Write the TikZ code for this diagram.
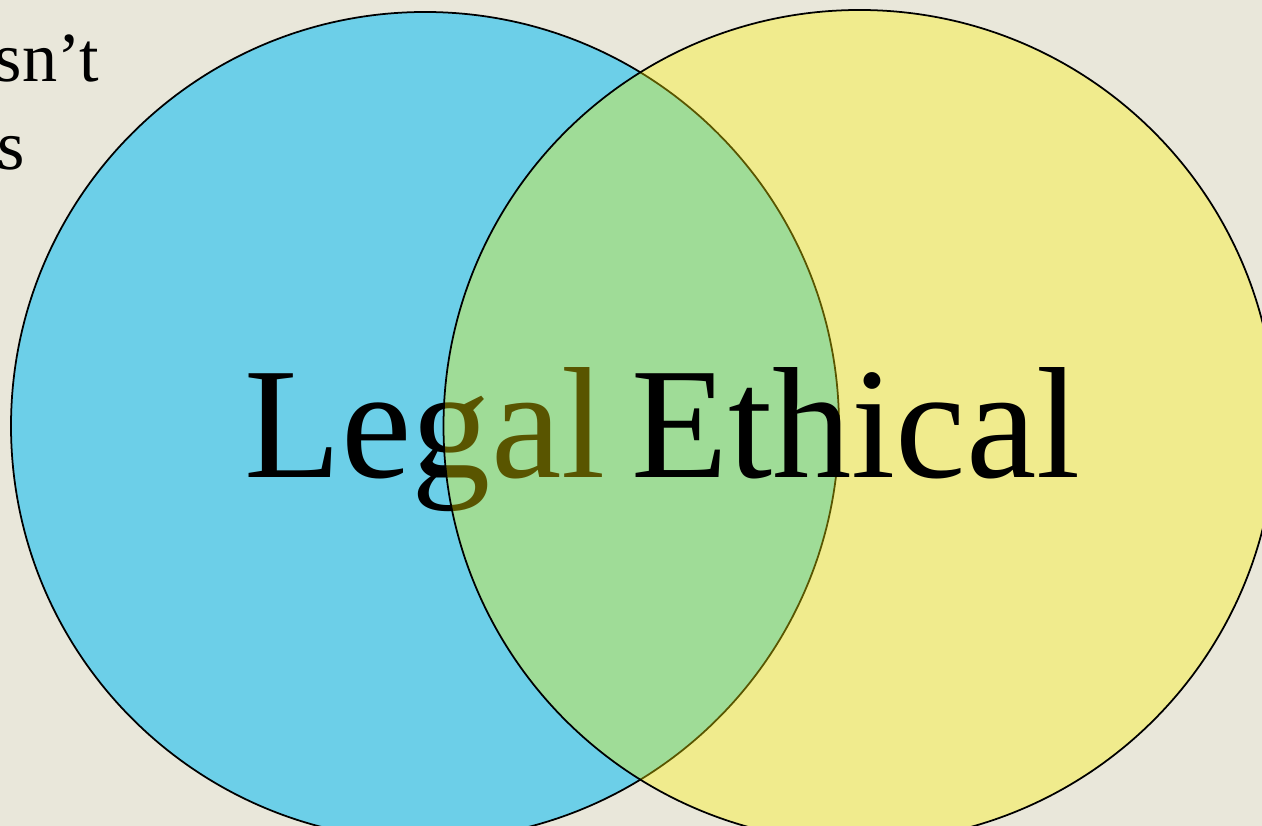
\documentclass[tikz,border=0pt]{standalone}
\usepackage{fontspec}
\setmainfont{Liberation Serif}
\definecolor{paper}{RGB}{233,231,218}
\definecolor{legalblue}{RGB}{108,207,232}
\definecolor{ethicyellow}{RGB}{255,245,0}
\tikzset{
  big/.style={anchor=base west,inner sep=0pt,font=\fontsize{45.1pt}{54pt}\selectfont},
  small/.style={anchor=base west,inner sep=0pt,font=\fontsize{20pt}{25pt}\selectfont}
}
\begin{document}
\begin{tikzpicture}
	\useasboundingbox (0,0) rectangle (12.62,8.26);
	\clip (0,0) rectangle (12.62,8.26);
	\fill[paper] (0,0) rectangle (12.62,8.26);
	% text cut at the left edge
	\node[small] (line1) at (-0.06,7.44) {sn’t};
	\node[small] (line2) at (-0.03,6.56) {s};
	% the two sets
	\fill[legalblue] (4.25,4.00) circle (4.14cm);
	\draw[line width=0.5pt] (4.25,4.00) circle (4.14cm);
	\node[big] (legal) at (2.44,3.48) {Legal};
	\fill[ethicyellow,fill opacity=0.35] (8.595,4.00) circle (4.16cm);
	\draw[line width=0.5pt] (8.595,4.00) circle (4.16cm);
	\node[big] (ethical) at (6.31,3.48) {Ethical};
\end{tikzpicture}
\end{document}
